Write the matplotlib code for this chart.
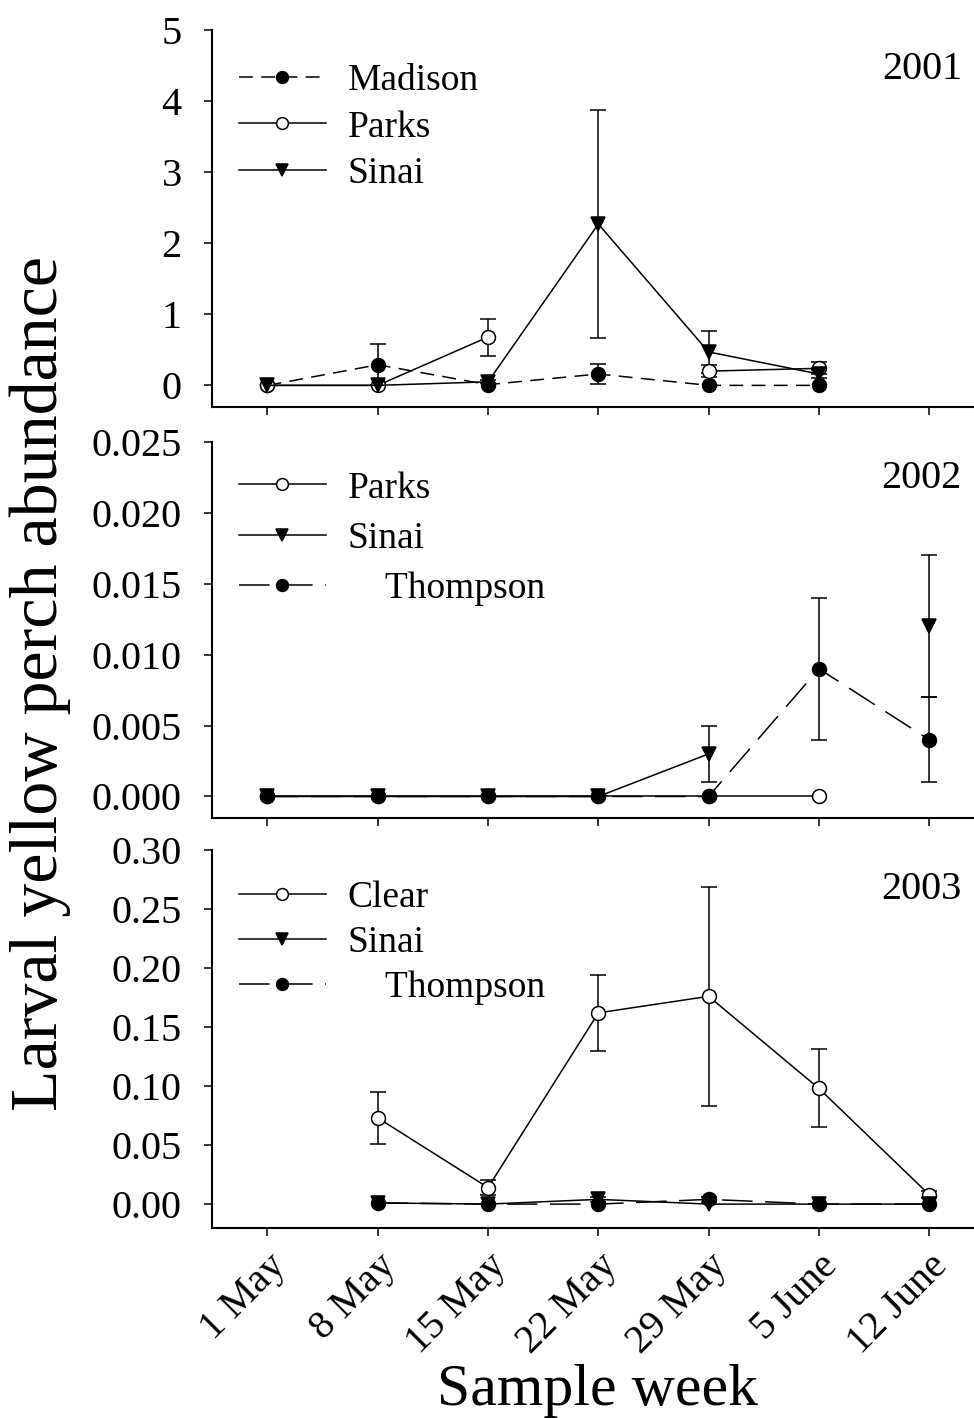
import numpy as np
import matplotlib
matplotlib.use("Agg")
import matplotlib.pyplot as plt


# -----------------------------
# Data
# -----------------------------
week_labels = ["1 May", "8 May", "15 May", "22 May", "29 May", "5 June", "12 June"]
weeks = np.arange(len(week_labels))

nan = np.nan

# 2001
madison_01 = [0.0, 0.29, 0.01, 0.16, 0.0, 0.0, nan]
madison_01_err = [nan, 0.29, nan, 0.14, nan, nan, nan]
parks_01 = [0.0, 0.0, 0.68, nan, 0.20, 0.24, nan]
parks_01_err = [nan, nan, 0.26, nan, 0.085, 0.085, nan]
sinai_01 = [0.0, 0.0, 0.05, 2.27, 0.47, 0.16, nan]
sinai_01_err = [nan, nan, 0.02, 1.61, 0.30, 0.05, nan]

# 2002
parks_02 = [0.0, 0.0, 0.0, 0.0, 0.0, 0.0, nan]
parks_02_err = [nan] * 7
sinai_02 = [0.0, 0.0, 0.0, 0.0, 0.003, nan, 0.012]
sinai_02_err = [nan, nan, nan, nan, 0.002, nan, 0.005]
thompson_02 = [0.0, 0.0, 0.0, 0.0, 0.0, 0.009, 0.004]
thompson_02_err = [nan, nan, nan, nan, nan, 0.005, 0.003]

# 2003
clear_03 = [nan, 0.073, 0.014, 0.162, 0.176, 0.098, 0.008]
clear_03_err = [nan, 0.022, 0.006, 0.032, 0.093, 0.033, 0.003]
sinai_03 = [nan, 0.001, 0.0, 0.004, 0.0, 0.0, 0.0]
sinai_03_err = [nan, nan, nan, 0.002, nan, nan, nan]
thompson_03 = [nan, 0.001, 0.0, 0.0, 0.004, 0.0, 0.0]
thompson_03_err = [nan, nan, nan, nan, 0.002, nan, nan]


# -----------------------------
# Style
# -----------------------------
plt.rcParams["font.family"] = ["Liberation Serif", "DejaVu Serif"]
plt.rcParams["lines.scale_dashes"] = False

LW = 1.1
MS = 10
short_dash = (0, (10, 6))
long_dash = (0, (22, 9))

styles = {
    "Madison": dict(marker="o", mfc="black", ls=short_dash),
    "Thompson": dict(marker="o", mfc="black", ls=long_dash),
    "Parks": dict(marker="o", mfc="white", ls="-"),
    "Clear": dict(marker="o", mfc="white", ls="-"),
    "Sinai": dict(marker="v", mfc="black", ls="-"),
}


def draw_series(ax, name, values, errors, label):
    st = styles[name]
    ax.errorbar(weeks, values, yerr=errors, fmt="none", ecolor="black",
                elinewidth=LW, capsize=6, capthick=LW, zorder=2)
    line, = ax.plot(weeks, values, color="black", lw=LW, ls=st["ls"],
                    marker=st["marker"], ms=MS, mfc=st["mfc"], mec="black",
                    mew=LW, label=label, zorder=3)
    return line


def add_legend(ax, handles, anchor, spacing):
    ax.legend(handles=handles, loc="upper left", bbox_to_anchor=anchor,
              fontsize=27, handlelength=2.3, handletextpad=0.59,
              labelspacing=spacing, borderpad=0, borderaxespad=0,
              markerscale=0.85, frameon=False)


fig = plt.figure(figsize=(9.74, 14.18), dpi=100)

ax_left = 0.218
ax_width = 0.7926
ax1 = fig.add_axes([ax_left, 0.7132, ax_width, 0.2656])
ax2 = fig.add_axes([ax_left, 0.4233, ax_width, 0.2652])
ax3 = fig.add_axes([ax_left, 0.1342, ax_width, 0.2664])


# -----------------------------
# 2001
# -----------------------------
h1 = [
    draw_series(ax1, "Madison", madison_01, madison_01_err, "Madison"),
    draw_series(ax1, "Parks", parks_01, parks_01_err, "Parks"),
    draw_series(ax1, "Sinai", sinai_01, sinai_01_err, "Sinai"),
]
ax1.set_ylim(-0.3, 5)
ax1.set_yticks([0, 1, 2, 3, 4, 5])
ax1.set_yticklabels(["0", "1", "2", "3", "4", "5"])
add_legend(ax1, h1, (0.035, 0.912), 0.33)
ax1.text(0.971, 0.894, "2001", transform=ax1.transAxes,
         ha="right", va="center", fontsize=29)


# -----------------------------
# 2002
# -----------------------------
h2 = [
    draw_series(ax2, "Parks", parks_02, parks_02_err, "Parks"),
    draw_series(ax2, "Sinai", sinai_02, sinai_02_err, "Sinai"),
    draw_series(ax2, "Thompson", thompson_02, thompson_02_err, "    Thompson"),
]
ax2.set_ylim(-0.0015, 0.025)
ax2.set_yticks([0.0, 0.005, 0.010, 0.015, 0.020, 0.025])
ax2.set_yticklabels(["0.000", "0.005", "0.010", "0.015", "0.020", "0.025"])
add_legend(ax2, h2, (0.035, 0.922), 0.42)
ax2.text(0.971, 0.903, "2002", transform=ax2.transAxes,
         ha="right", va="center", fontsize=29)


# -----------------------------
# 2003
# -----------------------------
h3 = [
    draw_series(ax3, "Clear", clear_03, clear_03_err, "Clear"),
    draw_series(ax3, "Sinai", sinai_03, sinai_03_err, "Sinai"),
    draw_series(ax3, "Thompson", thompson_03, thompson_03_err, "    Thompson"),
]
ax3.set_ylim(-0.02, 0.30)
ax3.set_yticks([0.0, 0.05, 0.10, 0.15, 0.20, 0.25, 0.30])
ax3.set_yticklabels(["0.00", "0.05", "0.10", "0.15", "0.20", "0.25", "0.30"])
add_legend(ax3, h3, (0.035, 0.918), 0.28)
ax3.text(0.971, 0.894, "2003", transform=ax3.transAxes,
         ha="right", va="center", fontsize=29)


# -----------------------------
# Shared axis formatting
# -----------------------------
for ax in (ax1, ax2, ax3):
    ax.set_xlim(-0.5, 6.5)
    ax.set_xticks(weeks)
    ax.spines["top"].set_visible(False)
    ax.spines["right"].set_visible(False)
    ax.spines["left"].set_linewidth(1.5)
    ax.spines["bottom"].set_linewidth(1.5)
    ax.tick_params(direction="out", length=6, width=LW, labelsize=29)
    ax.tick_params(axis="y", pad=16)

for ax in (ax1, ax2):
    ax.set_xticklabels([])

ax3.set_xticklabels(week_labels, rotation=45, ha="right", va="top",
                    rotation_mode="anchor")
ax3.tick_params(axis="x", pad=8)

fig.text(0.041, 0.518, "Larval yellow perch abundance", rotation=90,
         ha="center", va="center", fontsize=49)
fig.text(0.613, 0.009, "Sample week", ha="center", va="baseline", fontsize=43)

fig.savefig("out.png", dpi=100)
